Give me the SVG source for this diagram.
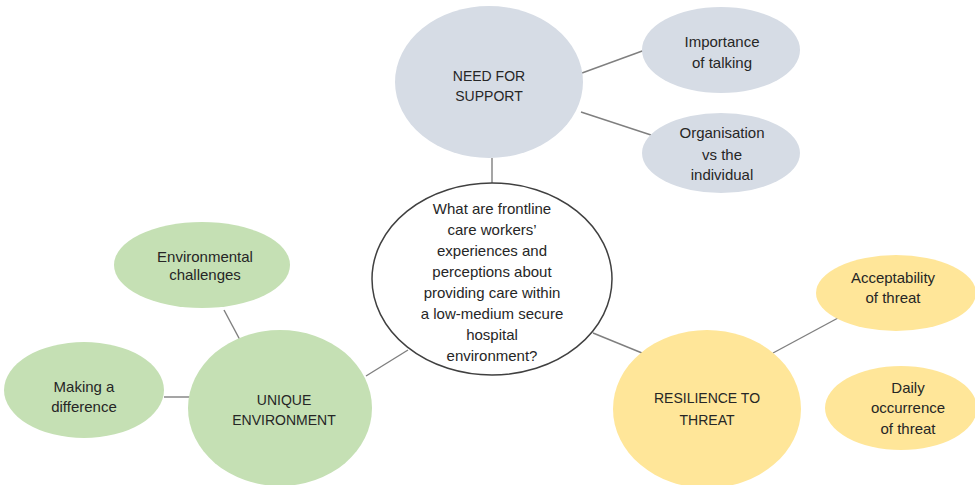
<svg xmlns="http://www.w3.org/2000/svg" width="975" height="485" viewBox="0 0 975 485">
<style>
text{font-family:"Liberation Sans",Arial,sans-serif;font-size:15px;fill:#262626;text-anchor:middle}
.cap{font-size:14px}
.blue{fill:#d6dce5}
.green{fill:#c5e0b4}
.yellow{fill:#ffe699}
.conn line{stroke:#7f7f7f;stroke-width:1.4}
</style>
<rect width="975" height="485" fill="#ffffff"/>
<g class="conn">
<line x1="582" y1="73" x2="645" y2="50"/>
<line x1="581" y1="112" x2="651" y2="135"/>
<line x1="492" y1="158" x2="492" y2="184"/>
<line x1="224" y1="310" x2="240" y2="340"/>
<line x1="164" y1="397" x2="190" y2="397"/>
<line x1="366" y1="376" x2="408" y2="350"/>
<line x1="593" y1="333" x2="642" y2="353"/>
<line x1="773" y1="353" x2="838" y2="318"/>
</g>
<g id="need-for-support">
<ellipse class="blue" cx="489" cy="82" rx="94" ry="76"/>
<text class="cap" x="489" y="81">NEED FOR</text>
<text class="cap" x="489" y="101">SUPPORT</text>
</g>
<g id="importance-of-talking">
<ellipse class="blue" cx="721" cy="50" rx="79" ry="43"/>
<text x="722" y="47">Importance</text>
<text x="722" y="68">of talking</text>
</g>
<g id="organisation">
<ellipse class="blue" cx="721" cy="153" rx="79" ry="40"/>
<text x="722" y="138">Organisation</text>
<text x="722" y="160">vs the</text>
<text x="722" y="180">individual</text>
</g>
<g id="central">
<ellipse cx="492" cy="279" rx="120" ry="96" fill="#ffffff" stroke="#404040" stroke-width="1.5"/>
<text x="492" y="214">What are frontline</text>
<text x="492" y="235">care workers’</text>
<text x="492" y="256">experiences and</text>
<text x="492" y="277">perceptions about</text>
<text x="492" y="298">providing care within</text>
<text x="492" y="319">a low-medium secure</text>
<text x="492" y="340">hospital</text>
<text x="492" y="361">environment?</text>
</g>
<g id="environmental-challenges">
<ellipse class="green" cx="202" cy="265" rx="88" ry="43"/>
<text x="205" y="262">Environmental</text>
<text x="205" y="280">challenges</text>
</g>
<g id="making-a-difference">
<ellipse class="green" cx="84" cy="390" rx="80" ry="48"/>
<text x="84" y="392">Making a</text>
<text x="84" y="412">difference</text>
</g>
<g id="unique-environment">
<ellipse class="green" cx="280" cy="408" rx="92" ry="78"/>
<text class="cap" x="284" y="405">UNIQUE</text>
<text class="cap" x="284" y="425">ENVIRONMENT</text>
</g>
<g id="resilience-to-threat">
<ellipse class="yellow" cx="707" cy="409" rx="94" ry="79"/>
<text class="cap" x="707" y="403">RESILIENCE TO</text>
<text class="cap" x="707" y="425">THREAT</text>
</g>
<g id="acceptability-of-threat">
<ellipse class="yellow" cx="896" cy="293" rx="80" ry="38"/>
<text x="893" y="283">Acceptability</text>
<text x="893" y="303">of threat</text>
</g>
<g id="daily-occurrence">
<ellipse class="yellow" cx="901" cy="408" rx="76" ry="42"/>
<text x="908" y="393">Daily</text>
<text x="908" y="413">occurrence</text>
<text x="908" y="434">of threat</text>
</g>
</svg>
